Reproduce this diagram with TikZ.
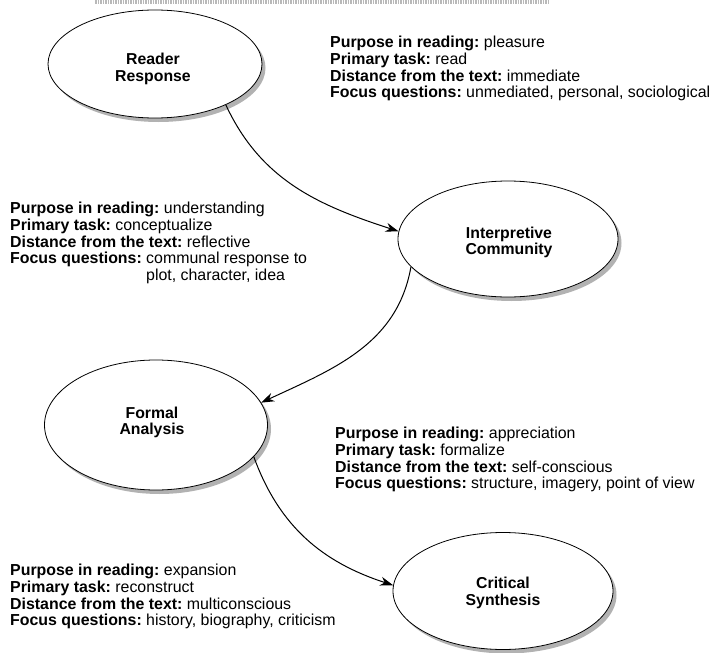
\documentclass[tikz,border=0pt]{standalone}
\usepackage{fontspec}
\setmainfont{Liberation Sans}
\usetikzlibrary{shapes.geometric,arrows.meta,shadows}
\begin{document}
\frenchspacing
\begin{tikzpicture}[x=1pt,y=-1pt,
  ell/.style={ellipse,draw,line width=0.8pt,fill=white,inner sep=0pt,
    drop shadow={shadow xshift=3.5pt,shadow yshift=-4pt,fill=gray!60,opacity=1}},
  lbl/.style={align=center,font=\fontsize{15.8}{16.7}\selectfont\bfseries,inner sep=0pt},
  info/.style={align=left,anchor=north west,font=\fontsize{15.9}{16.7}\selectfont,inner sep=0pt},
  conn/.style={line width=1pt,-{Stealth[length=13pt,width=9pt]}}]
\useasboundingbox (0,0) rectangle (716,653);
\fill[white] (0,0) rectangle (716,653);
\draw[gray!55,line width=3pt,dash pattern=on 1.5pt off 1pt] (95,2) -- (550,2);

\node[ell,minimum width=214pt,minimum height=108pt] (rr) at (155,64) {};
\node[lbl] (rrt) at (153,69) {Reader\\Response};

\node[ell,minimum width=220pt,minimum height=116pt] (ic) at (508,239) {};
\node[lbl] (ict) at (509,242.5) {Interpretive\\Community};

\node[ell,minimum width=223pt,minimum height=130pt] (fa) at (156,425) {};
\node[lbl] (fat) at (152,422.5) {Formal\\Analysis};

\node[ell,minimum width=220pt,minimum height=117pt] (cs) at (503,591) {};
\node[lbl] (cst) at (503,593) {Critical\\Synthesis};

\node[info] (t1) at (330,36) {\textbf{Purpose in reading:} pleasure\\
\textbf{Primary task:} read\\
\textbf{Distance from the text:} immediate\\
\textbf{Focus questions:} unmediated, personal, sociological};

\node[info] (t2) at (10,202) {\textbf{Purpose in reading:} understanding\\
\textbf{Primary task:} conceptualize\\
\textbf{Distance from the text:} reflective\\
\textbf{Focus questions:} communal response to\\
\phantom{\textbf{Focus questions:}} plot, character, idea};

\node[info] (t3) at (335,427) {\textbf{Purpose in reading:} appreciation\\
\textbf{Primary task:} formalize\\
\textbf{Distance from the text:} self-conscious\\
\textbf{Focus questions:} structure, imagery, point of view};

\node[info] (t4) at (10,564) {\textbf{Purpose in reading:} expansion\\
\textbf{Primary task:} reconstruct\\
\textbf{Distance from the text:} multiconscious\\
\textbf{Focus questions:} history, biography, criticism};

\draw[conn] (rr.-30) to[out=-65,in=162] (ic.176);
\draw[conn] (ic.196) to[out=-100,in=25] (fa.12);
\draw[conn] (fa.-18) to[out=-70,in=162] (cs.177);
\end{tikzpicture}
\end{document}
